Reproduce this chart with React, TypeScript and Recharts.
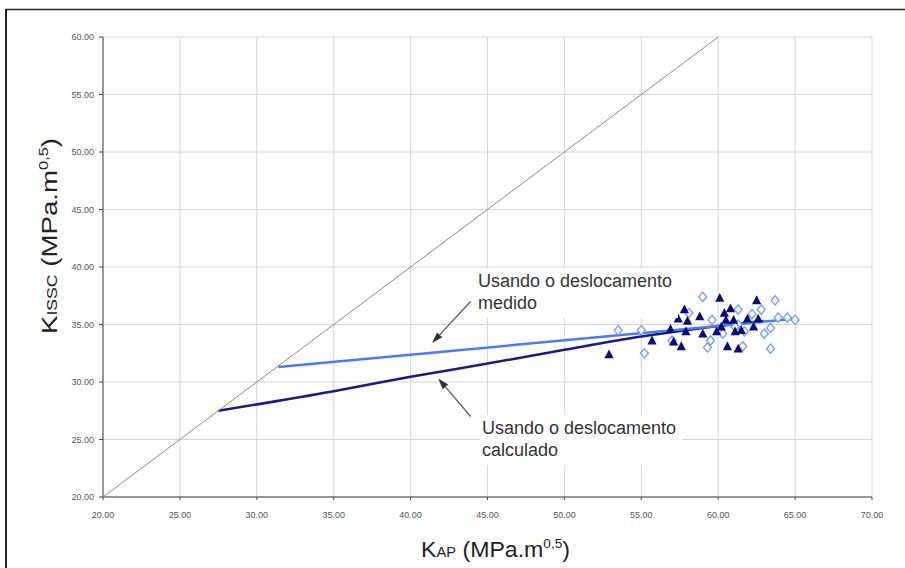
import { ComposedChart, Scatter, Line, XAxis, YAxis, CartesianGrid, ReferenceLine } from "recharts";

// K_AP vs K_ISSC, values in MPa.m^0,5
const X_TICKS = [20, 25, 30, 35, 40, 45, 50, 55, 60, 65, 70];
const Y_TICKS = [20, 25, 30, 35, 40, 45, 50, 55, 60];

// 1:1 line
const equalityLine = [
  { x: 20, y: 20 },
  { x: 60, y: 60 },
];

// fitted curves
const measuredFit = [
  { x: 31.4, y: 31.3 },
  { x: 65.0, y: 35.5 },
];
const calculatedFit = [
  { x: 27.5, y: 27.5 },
  { x: 35.0, y: 29.2 },
  { x: 40.0, y: 30.45 },
  { x: 45.0, y: 31.6 },
  { x: 50.0, y: 32.8 },
  { x: 55.0, y: 33.95 },
  { x: 59.0, y: 34.7 },
  { x: 63.0, y: 35.3 },
];

// specimens, displacement calculated (triangles)
const calculatedPoints = [
  { x: 52.9, y: 32.4 }, { x: 55.7, y: 33.6 }, { x: 56.9, y: 34.6 }, { x: 57.1, y: 33.5 },
  { x: 57.6, y: 33.1 }, { x: 57.8, y: 36.3 }, { x: 57.4, y: 35.5 }, { x: 58.0, y: 35.3 },
  { x: 58.8, y: 35.7 }, { x: 57.9, y: 34.4 }, { x: 59.0, y: 34.2 }, { x: 60.1, y: 37.3 },
  { x: 59.9, y: 34.4 }, { x: 60.4, y: 36.0 }, { x: 60.8, y: 36.4 }, { x: 61.0, y: 35.4 },
  { x: 60.6, y: 33.1 }, { x: 61.3, y: 32.9 }, { x: 61.1, y: 34.4 }, { x: 61.9, y: 35.5 },
  { x: 62.3, y: 34.8 }, { x: 62.6, y: 35.5 }, { x: 62.5, y: 37.1 }, { x: 60.2, y: 34.8 },
  { x: 61.5, y: 34.5 }, { x: 60.5, y: 35.4 },
];

// specimens, displacement measured (diamonds)
const measuredPoints = [
  { x: 53.5, y: 34.5 }, { x: 55.0, y: 34.5 }, { x: 55.2, y: 32.5 }, { x: 57.0, y: 33.6 },
  { x: 59.0, y: 37.4 }, { x: 58.1, y: 36.0 }, { x: 59.6, y: 35.4 }, { x: 59.5, y: 33.6 },
  { x: 59.3, y: 33.0 }, { x: 61.3, y: 36.3 }, { x: 61.3, y: 35.0 }, { x: 61.7, y: 34.4 },
  { x: 62.2, y: 35.9 }, { x: 62.8, y: 36.3 }, { x: 63.7, y: 37.1 }, { x: 63.4, y: 34.7 },
  { x: 63.0, y: 34.2 }, { x: 61.6, y: 33.1 }, { x: 63.9, y: 35.6 }, { x: 64.5, y: 35.6 },
  { x: 65.0, y: 35.4 }, { x: 63.4, y: 32.9 }, { x: 60.3, y: 34.2 }, { x: 61.1, y: 34.8 },
];

// annotation arrows: tail -> tip
const measuredArrow = [
  { x: 43.9, y: 37.0 },
  { x: 41.4, y: 33.4 },
];
const calculatedArrow = [
  { x: 43.9, y: 27.0 },
  { x: 41.8, y: 30.3 },
];

const FONT = "'Liberation Sans', Arial, sans-serif";
const NAVY = "#0c0c78";
const LIGHT_BLUE = "#4a7af4";

const Triangle = (p: any) => {
  const { cx, cy } = p;
  return <polygon points={`${cx},${cy - 5} ${cx + 4.6},${cy + 3.8} ${cx - 4.6},${cy + 3.8}`} fill={NAVY} />;
};

const Diamond = (p: any) => {
  const { cx, cy } = p;
  return (
    <polygon
      points={`${cx},${cy - 4.6} ${cx + 4},${cy} ${cx},${cy + 4.6} ${cx - 4},${cy}`}
      fill="#fff"
      stroke="#6f9bff"
      strokeWidth={1.3}
    />
  );
};

const NoDot = () => <g />;

const Arrow = (p: any) => {
  const { x1, y1, x2, y2 } = p;
  const a = Math.atan2(y2 - y1, x2 - x1);
  const len = 11;
  const half = 3.6;
  const bx = x2 - len * Math.cos(a);
  const by = y2 - len * Math.sin(a);
  const sx = half * Math.sin(a);
  const sy = half * Math.cos(a);
  return (
    <g>
      <line x1={x1} y1={y1} x2={bx} y2={by} stroke="#555" strokeWidth={1.2} />
      <polygon points={`${x2},${y2} ${bx + sx},${by - sy} ${bx - sx},${by + sy}`} fill="#333" />
    </g>
  );
};

const labelStyle: React.CSSProperties = {
  position: "absolute",
  background: "#fff",
  fontFamily: FONT,
  fontSize: 18,
  lineHeight: "22px",
  color: "#333",
  padding: "2px 6px 4px 2px",
  whiteSpace: "nowrap",
};

export default function App() {
  return (
    <div style={{ position: "absolute", left: 0, top: 0, width: 905, height: 568, background: "#fff", overflow: "hidden" }}>
      <ComposedChart width={905} height={568} margin={{ top: 37, right: 33, bottom: 0, left: 0 }} style={{ position: "absolute", left: 0, top: 0 }}>
        <CartesianGrid stroke="#d6d6d6" strokeWidth={1} />
        <XAxis
          type="number"
          dataKey="x"
          domain={[20, 70]}
          ticks={X_TICKS}
          height={71}
          tickFormatter={(v: number) => v.toFixed(2)}
          tick={{ fontSize: 9, fill: "#555", fontFamily: FONT }}
          tickSize={3}
          tickMargin={12}
          stroke="#444"
          allowDataOverflow
        />
        <YAxis
          type="number"
          dataKey="y"
          domain={[20, 60]}
          ticks={Y_TICKS}
          width={103}
          tickFormatter={(v: number) => v.toFixed(2)}
          tick={{ fontSize: 9, fill: "#555", fontFamily: FONT }}
          tickSize={4}
          tickMargin={5}
          stroke="#444"
          allowDataOverflow
        />
        <Scatter data={equalityLine} line={{ stroke: "#8a8a8a", strokeWidth: 1 }} shape={NoDot} isAnimationActive={false} />
        <Scatter data={measuredPoints} shape={Diamond} isAnimationActive={false} />
        <Scatter data={calculatedPoints} shape={Triangle} isAnimationActive={false} />
        <Line data={calculatedFit} dataKey="y" type="monotone" stroke="#1b1b80" strokeWidth={2.5} dot={false} activeDot={false} isAnimationActive={false} />
        <Line data={measuredFit} dataKey="y" type="linear" stroke={LIGHT_BLUE} strokeWidth={2.5} dot={false} activeDot={false} isAnimationActive={false} />
        <ReferenceLine segment={measuredArrow} shape={Arrow} />
        <ReferenceLine segment={calculatedArrow} shape={Arrow} />
      </ComposedChart>

      <div style={{ ...labelStyle, left: 476, top: 268 }}>
        Usando o deslocamento
        <br />
        medido
      </div>
      <div style={{ ...labelStyle, left: 480, top: 415 }}>
        Usando o deslocamento
        <br />
        calculado
      </div>

      {/* frame and axis titles */}
      <svg width={905} height={568} style={{ position: "absolute", left: 0, top: 0, pointerEvents: "none" }}>
        <line x1={5} y1={9.5} x2={905} y2={9.5} stroke="#222" strokeWidth={1.5} />
        <line x1={6} y1={9} x2={6} y2={568} stroke="#222" strokeWidth={2} />
        <text x={421} y={557} fontFamily={FONT} fontSize={22} fill="#222" textLength={149} lengthAdjust="spacingAndGlyphs">
          <tspan>K</tspan>
          <tspan fontSize={14}>AP</tspan>
          <tspan> (MPa.m</tspan>
          <tspan fontSize={13} dy={-9}>0,5</tspan>
          <tspan dy={9}>)</tspan>
        </text>
        <text
          transform="rotate(-90)"
          x={-236}
          y={57}
          textAnchor="middle"
          fontFamily={FONT}
          fontSize={22}
          fill="#222"
          textLength={196}
          lengthAdjust="spacingAndGlyphs"
        >
          <tspan>K</tspan>
          <tspan fontSize={14}>ISSC</tspan>
          <tspan> (MPa.m</tspan>
          <tspan fontSize={13} dy={-9}>0,5</tspan>
          <tspan dy={9}>)</tspan>
        </text>
      </svg>
    </div>
  );
}
